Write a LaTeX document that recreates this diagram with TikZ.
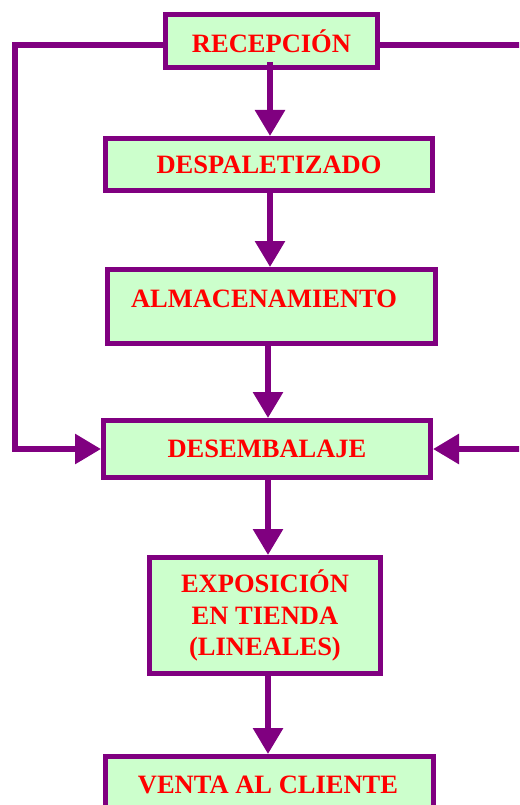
\documentclass[tikz,border=0pt]{standalone}
\usepackage{fontspec}
\setmainfont{Liberation Serif}
\usetikzlibrary{arrows.meta}
\definecolor{pur}{HTML}{800080}
\definecolor{lgreen}{HTML}{CCFFCC}
\definecolor{txtred}{HTML}{FF0000}
\begin{document}
\begin{tikzpicture}[x=1pt,y=-1pt,
  box/.style={draw=pur, line width=5pt, fill=lgreen, inner sep=0pt},
  lbl/.style={text=txtred, font=\bfseries\fontsize{26.5}{31.5}\selectfont, align=center, inner sep=0pt},
  conn/.style={draw=pur, line width=6pt, line join=miter},
  arr/.style={conn, -{Triangle[width=29pt,length=26pt]}}]
\useasboundingbox (0,0) rectangle (519,805);
\clip (0,0) rectangle (519,805);
% boxes
\node[box, lbl, minimum width=212pt, minimum height=53pt] (rec) at (271.5,41) {RECEPCIÓN};
\node[box, lbl, minimum width=327pt, minimum height=52pt] (desp) at (269,164.5) {DESPALETIZADO};
\node[box, minimum width=328pt, minimum height=74pt] (alm) at (271.5,306.5) {};
\node[lbl] (almT) at (264,299) {ALMACENAMIENTO};
\node[box, lbl, minimum width=327pt, minimum height=57pt] (desem) at (267,449) {DESEMBALAJE};
\node[box, lbl, minimum width=231pt, minimum height=116pt] (expo) at (265,615.5) {EXPOSICIÓN\\EN TIENDA\\(LINEALES)};
\node[box, minimum width=328pt, minimum height=80pt] (venta) at (269.5,796.5) {};
\node[lbl] (ventaT) at (268,785) {VENTA AL CLIENTE};
% vertical flow
\coordinate (r0) at (270,62);
\draw[arr] (r0) -- (r0 |- desp.north);
\draw[arr] ([xshift=1pt]desp.south) -- ([xshift=1pt]desp.south |- alm.north);
\draw[arr] ([xshift=-3.5pt]alm.south) -- ([xshift=-3.5pt]alm.south |- desem.north);
\draw[arr] ([xshift=1pt]desem.south) -- ([xshift=1pt]desem.south |- expo.north);
\draw[arr] ([xshift=3pt]expo.south) -- ([xshift=3pt]expo.south |- venta.north);
% left feedback
\coordinate (L1) at (15,45);
\draw[arr] (rec.west |- L1) -- (L1) -- (L1 |- desem.west) -- (desem.west);
% right lines
\coordinate (R1) at (525,45);
\draw[conn] (rec.east |- R1) -- (R1);
\coordinate (R2) at (525,449);
\draw[arr] (R2) -- (desem.east);
\end{tikzpicture}
\end{document}
